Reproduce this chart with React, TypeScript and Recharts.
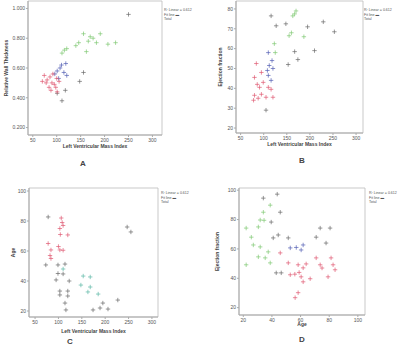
import React from 'react';
import { ScatterChart, Scatter, XAxis, YAxis, ReferenceArea } from 'recharts';

// ---------- data ----------
const lvmiTicks = [50, 100, 150, 200, 250, 300];
const rwtTicks = [0.2, 0.4, 0.6, 0.8, 1.0];
const efTicks = [20, 30, 40, 50, 60, 70, 80];
const ageTicks = [20, 40, 60, 80, 100];
const dyTicks = [20, 40, 60, 80, 100];

const aGray = [[250, 0.96], [156, 0.57], [148, 0.51], [101, 0.43], [111, 0.38], [118, 0.45]];
const aGreen = [[156, 0.83], [170, 0.81], [191, 0.83], [146, 0.77], [166, 0.78], [183, 0.77], [207, 0.76], [223, 0.77], [162, 0.71], [121, 0.73], [111, 0.7], [116, 0.72], [176, 0.8], [140, 0.75]];
const aBlue = [[119, 0.63], [107, 0.6], [101, 0.58], [115, 0.57], [121, 0.55], [110, 0.62], [96, 0.56], [104, 0.53]];
const aRed = [[74, 0.55], [80, 0.52], [86, 0.54], [90, 0.5], [95, 0.49], [100, 0.53], [84, 0.47], [78, 0.5], [92, 0.56], [105, 0.51], [88, 0.45], [98, 0.47], [70, 0.51], [101, 0.44]];

const bGray = [[116, 76.5], [127, 71.5], [148, 72.5], [195, 71], [229, 73.5], [253, 68.5], [167, 58.5], [210, 59], [174, 54.5], [153, 52], [105, 29]];
const bGreen = [[167, 77.5], [163, 76.5], [155, 66.5], [187, 66], [123, 62.5], [125, 58], [160, 68], [170, 79]];
const bBlue = [[110, 58], [112, 51.5], [120, 50], [110, 46.5], [116, 44], [118, 54], [108, 49]];
const bRed = [[84, 52.5], [95, 48], [80, 45.5], [99, 43], [110, 40.5], [91, 40.5], [116, 39.5], [80, 36.5], [88, 35], [105, 35.5], [120, 35.5], [78, 34], [95, 37], [86, 42]];

const cGray = [[78, 82.7], [255, 72.7], [247, 76], [73, 50.7], [99, 50.7], [114, 51.3], [99, 45], [110, 44.7], [95, 40.7], [123, 40], [103, 33.3], [120, 33.3], [103, 30.7], [120, 30], [114, 25.3], [116, 20.7], [227, 27.3], [195, 25.3], [189, 22], [174, 20.7], [206, 21.3]];
const cRed = [[106, 82], [108, 79], [103, 75], [120, 70.7], [104, 71], [78, 65], [84, 60.7], [103, 60.7], [110, 60.5], [82, 57], [84, 55], [110, 77], [100, 63]];
const cTeal = [[153, 43.3], [168, 42.7], [148, 37.3], [168, 36], [163, 32.7], [185, 31.3], [110, 48]];

const dGreen = [[38.8, 89.8], [34, 85], [31.8, 79.7], [34.5, 79.5], [30.5, 75], [22, 74.2], [25.6, 68], [27, 62.7], [31.8, 61.4], [37.4, 58], [30.5, 54.6], [35.3, 53.9], [38.8, 50.5], [22, 49.2]];
const dGray = [[34, 94.6], [43.7, 97.3], [45.8, 85], [39.5, 78.3], [44.4, 69.5], [40.9, 67.5], [51.4, 67.5], [73.7, 74.2], [80.6, 74.2], [70.9, 68], [77.8, 64], [43, 43.7], [46.5, 43.7]];
const dBlue = [[52.8, 60.7], [61.8, 62.7], [60.4, 59.3], [57, 61]];
const dRed = [[45.8, 57.3], [51.4, 50.5], [58.3, 49.2], [63.9, 49.8], [61.8, 47.1], [70.9, 53.9], [73.7, 49.2], [75, 47], [81.3, 53.9], [82.7, 49.2], [84.1, 45.8], [79.2, 41], [52.8, 42.4], [56, 42.8], [60.4, 41], [61.8, 37.6], [66.7, 39.7], [58.3, 30.2], [56.2, 26.8], [59, 44]];

const legendLines = ['R\u00B2 Linear = 0.612', 'Fit line \u25AC', 'Total'];

// ---------- styles ----------
const FONT = 'Liberation Sans, Arial, sans-serif';
const C_GRAY = '#6a6a6a';
const C_RED = '#e05a72';
const C_BLUE = '#5560b4';
const C_GREEN = '#80c872';
const C_TEAL = '#5cb8a6';

const toPts = (arr: number[][]) => arr.map(([x, y]) => ({ x, y }));

const plus = (color: string) => (props: any) => {
  const { cx, cy } = props;
  if (cx == null || cy == null) return <g />;
  return (
    <g>
      <line x1={cx - 2.2} y1={cy} x2={cx + 2.2} y2={cy} stroke={color} strokeWidth={0.7} />
      <line x1={cx} y1={cy - 2.2} x2={cx} y2={cy + 2.2} stroke={color} strokeWidth={0.7} />
    </g>
  );
};

type Group = { data: number[][]; color: string };

type PanelProps = {
  left: number;
  top: number;
  margin: { top: number; right: number; left: number; bottom: number };
  xHeight: number;
  yOffset: number;
  xDomain: [number, number];
  yDomain: [number, number];
  xTicks: number[];
  yTicks: number[];
  yFmt: (v: number) => string;
  xTitle: string;
  yTitle: string;
  letter: string;
  letterPos: [number, number];
  legendPos: [number, number];
  groups: Group[];
};

const tickStyle = { fontSize: 5, fill: '#555', fontFamily: FONT };

function Panel(p: PanelProps) {
  return (
    <div style={{ position: 'absolute', left: p.left, top: p.top, width: 200, height: 175 }}>
      <ScatterChart width={200} height={175} margin={p.margin}>
        <XAxis
          type="number"
          dataKey="x"
          domain={p.xDomain}
          ticks={p.xTicks}
          height={p.xHeight}
          tick={tickStyle}
          tickSize={2}
          tickMargin={1}
          stroke="#aaa"
          allowDataOverflow
          label={{ value: p.xTitle, position: 'insideBottom', offset: 1, fontSize: 5, fontWeight: 'bold', fill: '#444', fontFamily: FONT }}
        />
        <YAxis
          type="number"
          dataKey="y"
          domain={p.yDomain}
          ticks={p.yTicks}
          width={25}
          tick={tickStyle}
          tickFormatter={p.yFmt}
          tickSize={2}
          tickMargin={1}
          stroke="#aaa"
          allowDataOverflow
          label={{ value: p.yTitle, angle: -90, position: 'insideLeft', offset: p.yOffset, fontSize: 5, fontWeight: 'bold', fill: '#444', fontFamily: FONT, style: { textAnchor: 'middle' } }}
        />
        <ReferenceArea
          x1={p.xDomain[0]}
          x2={p.xDomain[1]}
          y1={p.yDomain[0]}
          y2={p.yDomain[1]}
          fill="none"
          stroke="#bbb"
          strokeWidth={0.8}
        />
        {p.groups.map((g, i) => (
          <Scatter key={i} data={toPts(g.data)} shape={plus(g.color)} isAnimationActive={false} />
        ))}
      </ScatterChart>
      <svg width={200} height={175} style={{ position: 'absolute', left: 0, top: 0, pointerEvents: 'none' }}>
        {legendLines.map((t, i) => (
          <text key={i} x={p.legendPos[0]} y={p.legendPos[1] + i * 4.5} fontSize={3.6} fill="#555" fontFamily={FONT}>
            {t}
          </text>
        ))}
        <text x={p.letterPos[0]} y={p.letterPos[1]} fontSize={8} fontWeight="bold" fill="#444" textAnchor="middle" fontFamily={FONT}>
          {p.letter}
        </text>
      </svg>
    </div>
  );
}

export default function App() {
  return (
    <div style={{ position: 'absolute', left: 0, top: 0, width: 400, height: 350, background: '#fff' }}>
      <Panel
        left={0}
        top={0}
        margin={{ top: 1, right: 38, left: 3, bottom: 26 }}
        xHeight={14}
        yOffset={3}
        xDomain={[40, 320]}
        yDomain={[0.15, 1.05]}
        xTicks={lvmiTicks}
        yTicks={rwtTicks}
        yFmt={(v) => v.toFixed(3)}
        xTitle="Left Ventricular Mass Index"
        yTitle="Relative Wall Thickness"
        letter="A"
        letterPos={[83, 166]}
        legendPos={[164, 11]}
        groups={[
          { data: aGray, color: C_GRAY },
          { data: aGreen, color: C_GREEN },
          { data: aBlue, color: C_BLUE },
          { data: aRed, color: C_RED },
        ]}
      />
      <Panel
        left={200}
        top={0}
        margin={{ top: 1, right: 37, left: 11, bottom: 28 }}
        xHeight={14}
        yOffset={9}
        xDomain={[40, 315]}
        yDomain={[17.5, 84]}
        xTicks={lvmiTicks}
        yTicks={efTicks}
        yFmt={(v) => String(v)}
        xTitle="Left Ventricular Mass Index"
        yTitle="Ejection fraction"
        letter="B"
        letterPos={[102, 163]}
        legendPos={[164, 11]}
        groups={[
          { data: bGray, color: C_GRAY },
          { data: bGreen, color: C_GREEN },
          { data: bBlue, color: C_BLUE },
          { data: bRed, color: C_RED },
        ]}
      />
      <Panel
        left={0}
        top={175}
        margin={{ top: 13, right: 42, left: 4, bottom: 16 }}
        xHeight={17}
        yOffset={9}
        xDomain={[37, 313]}
        yDomain={[16, 102]}
        xTicks={lvmiTicks}
        yTicks={ageTicks}
        yFmt={(v) => String(v)}
        xTitle="Left Ventricular Mass Index"
        yTitle="Age"
        letter="C"
        letterPos={[70, 169]}
        legendPos={[161, 19]}
        groups={[
          { data: cGray, color: C_GRAY },
          { data: cTeal, color: C_TEAL },
          { data: cRed, color: C_RED },
        ]}
      />
      <Panel
        left={200}
        top={175}
        margin={{ top: 13, right: 35, left: 14, bottom: 23 }}
        xHeight={12}
        yOffset={3}
        xDomain={[17, 105]}
        yDomain={[15, 101.5]}
        xTicks={ageTicks}
        yTicks={dyTicks}
        yFmt={(v) => String(v)}
        xTitle="Age"
        yTitle="Ejection fraction"
        letter="D"
        letterPos={[102, 167]}
        legendPos={[169, 19]}
        groups={[
          { data: dGray, color: C_GRAY },
          { data: dGreen, color: C_GREEN },
          { data: dBlue, color: C_BLUE },
          { data: dRed, color: C_RED },
        ]}
      />
    </div>
  );
}
